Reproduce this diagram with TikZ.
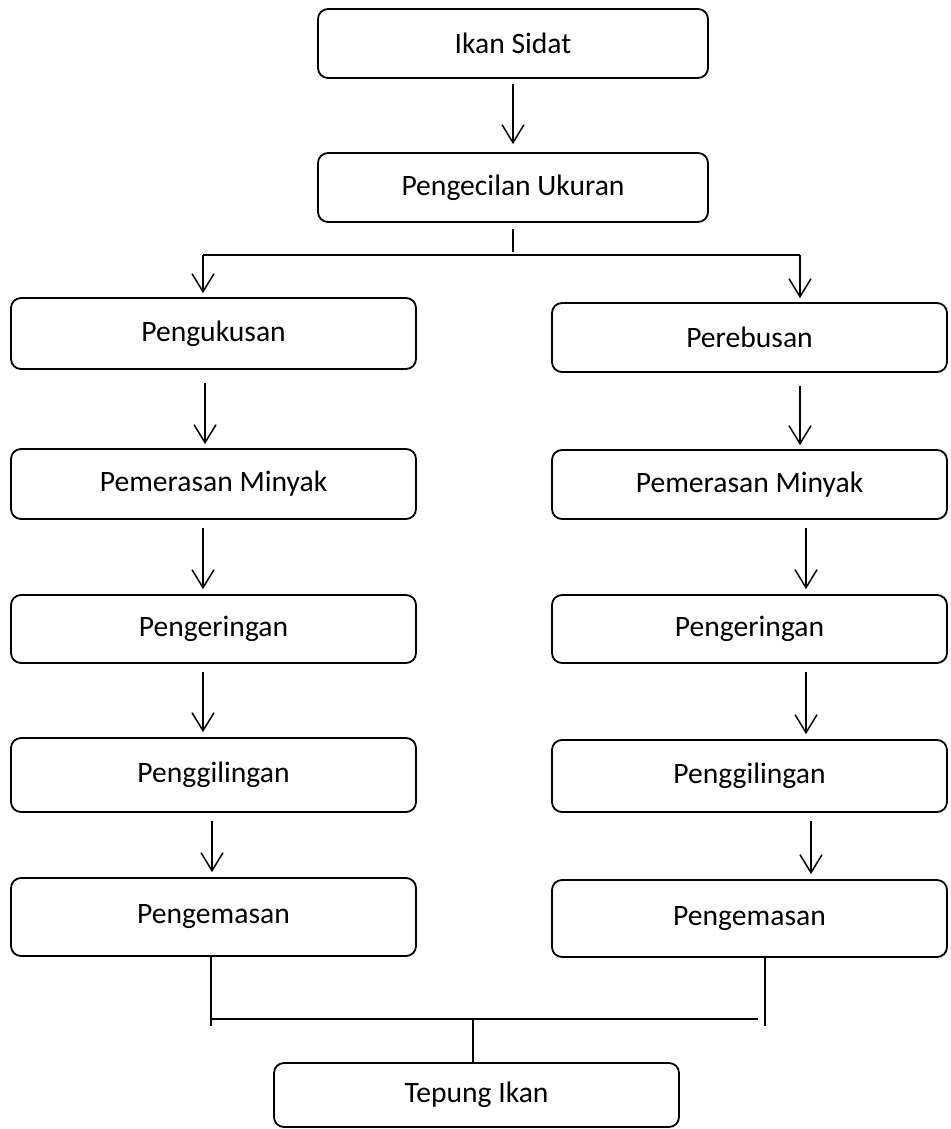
\documentclass[tikz,border=0pt]{standalone}
\usepackage{fontspec}
\setmainfont{Carlito}
\usetikzlibrary{arrows.meta}
\tikzset{
  proc/.style={draw, line width=0.9pt, rounded corners=5pt, align=center, inner sep=0pt, minimum height=35pt, font=\fontsize{14.8pt}{17.8pt}\selectfont},
  proc top/.style={proc, minimum width=195pt},
  proc left/.style={proc, minimum width=202.5pt},
  proc right/.style={proc, minimum width=197.5pt},
  flow/.style={line width=0.75pt, -{Straight Barb[length=9pt,width=11pt]}, shorten <=4pt, shorten >=2.5pt},
  link/.style={line width=0.75pt}
}

\begin{document}
\begin{tikzpicture}[x=0.5pt, y=-0.5pt]
  \useasboundingbox (0,0) rectangle (950,1129);

  \node[proc top, minimum height=34.5pt] (sidat) at (513,43.5) {Ikan Sidat};
  \node[proc top, minimum height=34.5pt] (kecil) at (513,187.5) {Pengecilan Ukuran};

  \node[proc left, minimum height=35.5pt] (kukus) at (213.5,333.5) {Pengukusan};
  \node[proc left] (perasL) at (213.5,484) {Pemerasan Minyak};
  \node[proc left, minimum height=34pt] (keringL) at (213.5,629) {Pengeringan};
  \node[proc left, minimum height=37pt] (gilingL) at (213.5,775) {Penggilingan};
  \node[proc left, minimum height=39pt] (kemasL) at (213.5,917) {Pengemasan};

  \node[proc right, minimum height=34.5pt] (rebus) at (749.5,337.5) {Perebusan};
  \node[proc right, minimum height=34.5pt] (perasR) at (749.5,484.5) {Pemerasan Minyak};
  \node[proc right, minimum height=34pt] (keringR) at (749.5,629) {Pengeringan};
  \node[proc right, minimum height=36pt] (gilingR) at (749.5,776) {Penggilingan};
  \node[proc right, minimum height=38.5pt] (kemasR) at (749.5,918.5) {Pengemasan};

  \node[proc left, minimum height=32pt] (tepung) at (476.5,1095) {Tepung Ikan};

  % cabang atas
  \coordinate (forkM) at (513,252);
  \coordinate (forkL) at (203,255);
  \coordinate (forkR) at (800,255);

  % gabungan bawah
  \coordinate (endL) at (211,1026);
  \coordinate (endR) at (765,1026);
  \coordinate (joinL) at (211,1019);
  \coordinate (joinM) at (473,1019);
  \coordinate (joinR) at (758,1019);

  \draw[flow, shorten <=2.5pt, shorten >=4pt] (sidat) -- (kecil);

  \draw[link] ([yshift=-3pt]kecil.south) -- (forkM);
  \draw[link] (forkL) -- (forkR);
  \draw[flow, shorten <=0pt, shorten >=2pt] (forkL) -- (kukus.north -| forkL);
  \draw[flow, shorten <=0pt, shorten >=2pt] (forkR) -- (rebus.north -| forkR);

  \draw[flow, shorten <=6.5pt, shorten >=2pt] ([xshift=-4.25pt]kukus.south) -- ([xshift=-4.25pt]perasL.north);
  \draw[flow] ([xshift=-5.25pt]perasL.south) -- ([xshift=-5.25pt]keringL.north);
  \draw[flow] ([xshift=-5.25pt]keringL.south) -- ([xshift=-5.25pt]gilingL.north);
  \draw[flow] ([xshift=-0.75pt]gilingL.south) -- ([xshift=-0.75pt]kemasL.north);

  \draw[flow, shorten <=6.5pt, shorten >=2pt] ([xshift=25.25pt]rebus.south) -- ([xshift=25.25pt]perasR.north);
  \draw[flow] ([xshift=28.25pt]perasR.south) -- ([xshift=28.25pt]keringR.north);
  \draw[flow] ([xshift=28.25pt]keringR.south) -- ([xshift=28.25pt]gilingR.north);
  \draw[flow] ([xshift=30.75pt]gilingR.south) -- ([xshift=30.75pt]kemasR.north);

  \draw[link] (kemasL.south -| endL) -- (endL);
  \draw[link] (kemasR.south -| endR) -- (endR);
  \draw[link] (joinL) -- (joinR);
  \draw[link] (joinM) -- (tepung.north -| joinM);

\end{tikzpicture}
\end{document}
